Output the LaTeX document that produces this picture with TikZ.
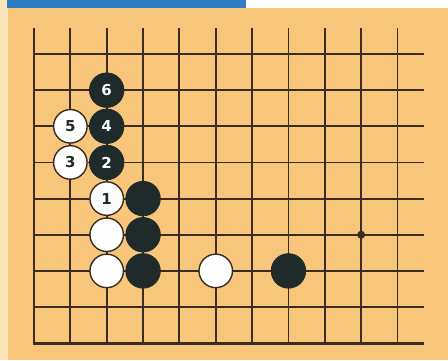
\documentclass[tikz,border=0pt]{standalone}
\usepackage{fontspec}
\newfontfamily\stonefont{DejaVu Sans}
\definecolor{board}{HTML}{F8C67A}
\definecolor{strip}{HTML}{FBE6BC}
\definecolor{bar}{HTML}{2F7DC6}
\definecolor{gridc}{HTML}{3A2C22}
\definecolor{blackstone}{HTML}{1F2A2A}
\tikzset{
  gridline/.style={draw=gridc, line width=1.9pt},
  edgeline/.style={draw=gridc, line width=2.9pt},
  bstone/.style={circle, fill=blackstone, draw=blackstone, line width=0.8pt, minimum size=34.5pt, inner sep=0pt, text=white, font=\stonefont\bfseries\fontsize{15}{15}\selectfont},
  wstone/.style={circle, fill=white, draw=gridc, line width=1.4pt, minimum size=33.5pt, inner sep=0pt, text=blackstone, font=\stonefont\bfseries\fontsize{15}{15}\selectfont},
  starpt/.style={circle, fill=gridc, minimum size=8pt, inner sep=0pt},
}
\begin{document}
\begin{tikzpicture}[x=1pt,y=-1pt]
\useasboundingbox (0,0) rectangle (448,360);
\fill[white] (0,0) rectangle (448,360);
\fill[strip] (0,0) rectangle (8,360);
\fill[board] (8,8) rectangle (448,360);
\fill[bar] (7,0) rectangle (246,7.5);
% vertical lines
\foreach \i in {1,...,10} {
  \draw[gridline] ({34+36.35*\i},28) -- ({34+36.35*\i},343.2);
}
\draw[edgeline] (34,28) -- (34,343.2);
% horizontal lines
\foreach \j in {0,...,7} {
  \draw[gridline] (34,{54+36.15*\j}) -- (424,{54+36.15*\j});
}
\draw[edgeline] (32.55,343.2) -- (424,343.2);
% star point
\node[starpt] (star) at ({34+36.35*9},{54+36.15*5}) {};
% stones
\node[bstone] (b6) at ({34+36.35*2},{54+36.15*1}) {6};
\node[wstone] (w5) at ({34+36.35*1},{54+36.15*2}) {5};
\node[bstone] (b4) at ({34+36.35*2},{54+36.15*2}) {4};
\node[wstone] (w3) at ({34+36.35*1},{54+36.15*3}) {3};
\node[bstone] (b2) at ({34+36.35*2},{54+36.15*3}) {2};
\node[wstone] (w1) at ({34+36.35*2},{54+36.15*4}) {1};
\node[bstone] (ba) at ({34+36.35*3},{54+36.15*4}) {};
\node[wstone] (wa) at ({34+36.35*2},{54+36.15*5}) {};
\node[bstone] (bb) at ({34+36.35*3},{54+36.15*5}) {};
\node[wstone] (wb) at ({34+36.35*2},{54+36.15*6}) {};
\node[bstone] (bc) at ({34+36.35*3},{54+36.15*6}) {};
\node[wstone] (wc) at ({34+36.35*5},{54+36.15*6}) {};
\node[bstone] (bd) at ({34+36.35*7},{54+36.15*6}) {};
\end{tikzpicture}
\end{document}
